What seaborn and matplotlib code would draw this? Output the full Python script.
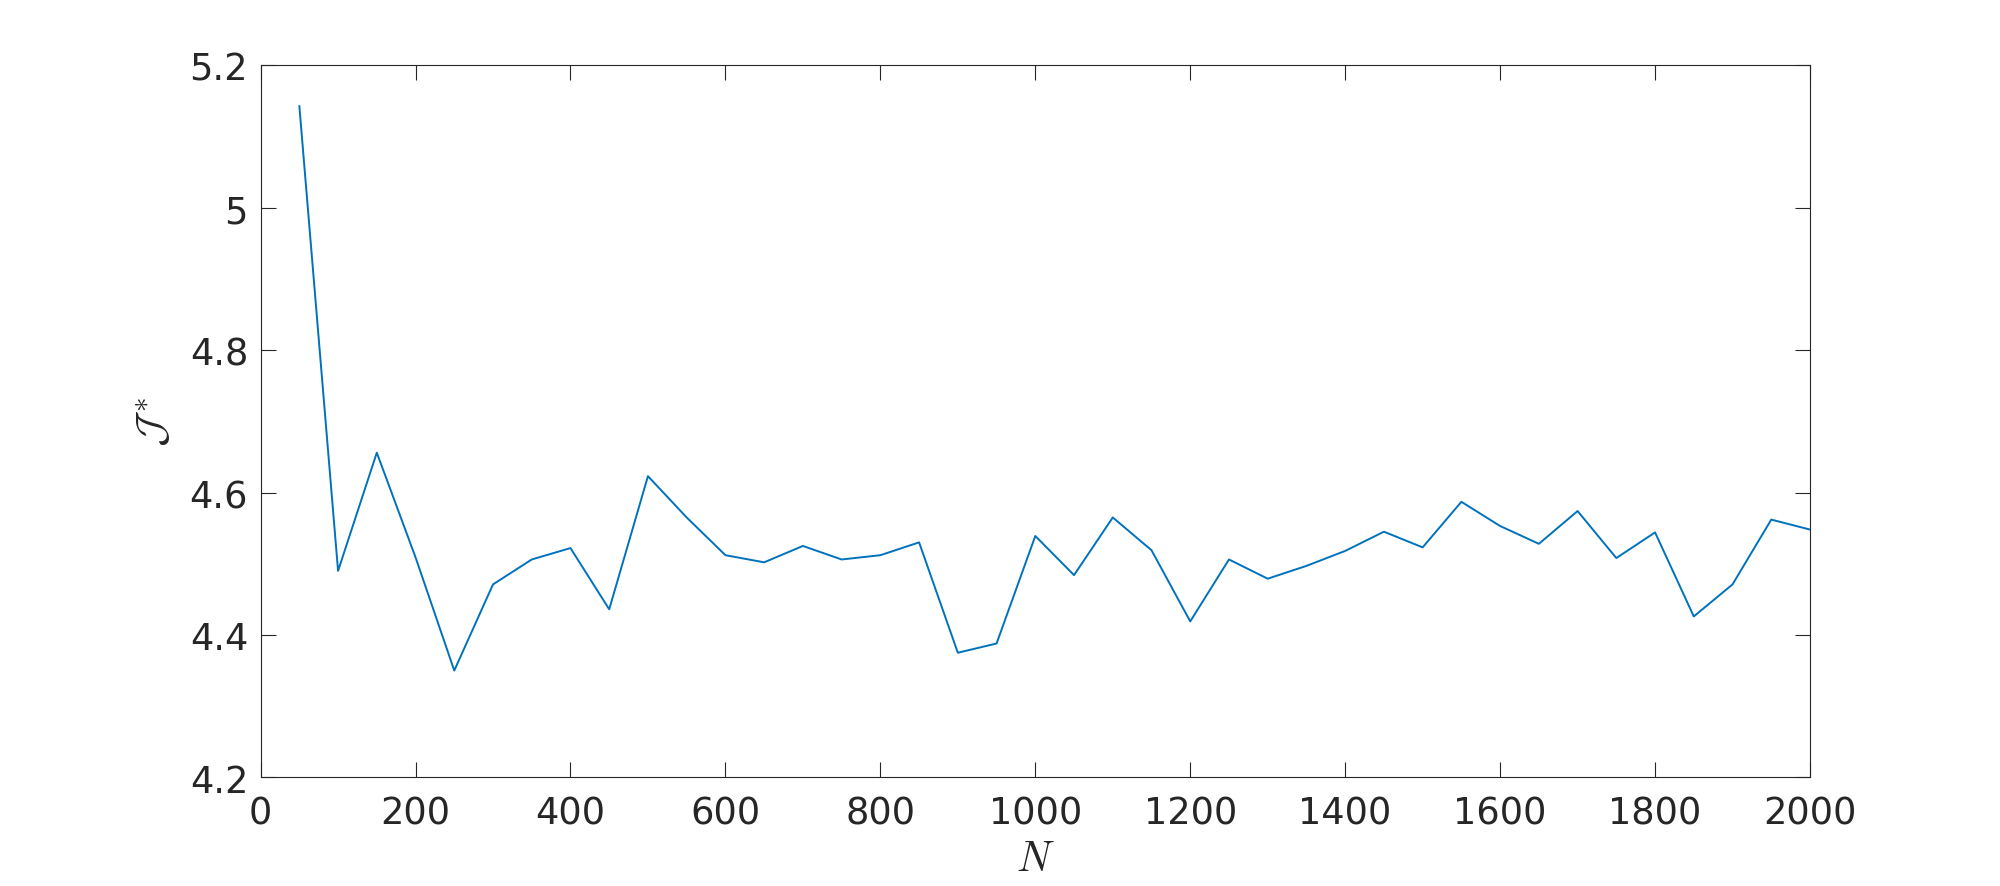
import numpy as np
import pandas as pd
import matplotlib
matplotlib.use("Agg")
import matplotlib.pyplot as plt
import seaborn as sns

# Data
N_values = [50, 100, 150, 200, 250, 300, 350, 400, 450, 500,
            550, 600, 650, 700, 750, 800, 850, 900, 950, 1000,
            1050, 1100, 1150, 1200, 1250, 1300, 1350, 1400, 1450, 1500,
            1550, 1600, 1650, 1700, 1750, 1800, 1850, 1900, 1950, 2000]
J_values = [5.143, 4.490, 4.656, 4.509, 4.350, 4.471, 4.506, 4.522, 4.436, 4.623,
            4.565, 4.512, 4.502, 4.525, 4.506, 4.512, 4.530, 4.375, 4.388, 4.539,
            4.484, 4.565, 4.519, 4.419, 4.506, 4.479, 4.497, 4.518, 4.545, 4.523,
            4.587, 4.553, 4.528, 4.574, 4.508, 4.544, 4.426, 4.471, 4.562, 4.548]
x_ticks = [0, 200, 400, 600, 800, 1000, 1200, 1400, 1600, 1800, 2000]
y_ticks = [4.2, 4.4, 4.6, 4.8, 5.0, 5.2]
y_ticklabels = ["4.2", "4.4", "4.6", "4.8", "5", "5.2"]

sns.set_theme(style="white")
plt.rcParams['font.family'] = ['DejaVu Sans']
plt.rcParams['mathtext.fontset'] = 'cm'

df = pd.DataFrame({"N": N_values, "J": J_values})

fig = plt.figure(figsize=(20, 8.87), dpi=100)
ax = fig.add_axes([0.1303, 0.1225, 0.7747, 0.8027])

sns.lineplot(data=df, x="N", y="J", ax=ax, color="#0072BD", linewidth=1.4)

ax.set_xlim(0, 2000)
ax.set_ylim(4.2, 5.2)
ax.set_xticks(x_ticks)
ax.set_yticks(y_ticks)
ax.set_yticklabels(y_ticklabels)

tick_color = "#262626"
ax.tick_params(axis='both', which='major', direction='in', length=10.8, width=0.8,
               color=tick_color, labelcolor=tick_color, labelsize=26.5,
               top=True, right=True, bottom=True, left=True,
               labeltop=False, labelright=False)
ax.tick_params(axis='x', pad=12)
ax.tick_params(axis='y', pad=9)

for sp in ax.spines.values():
    sp.set_visible(True)
    sp.set_color(tick_color)
    sp.set_linewidth(0.8)

ax.set_xlabel(r'$N$', fontsize=30, color=tick_color, labelpad=4)
ax.set_ylabel(r'$\mathcal{J}^*$', fontsize=30, color=tick_color, labelpad=10)

fig.savefig("out.png", dpi=100, facecolor="white")
